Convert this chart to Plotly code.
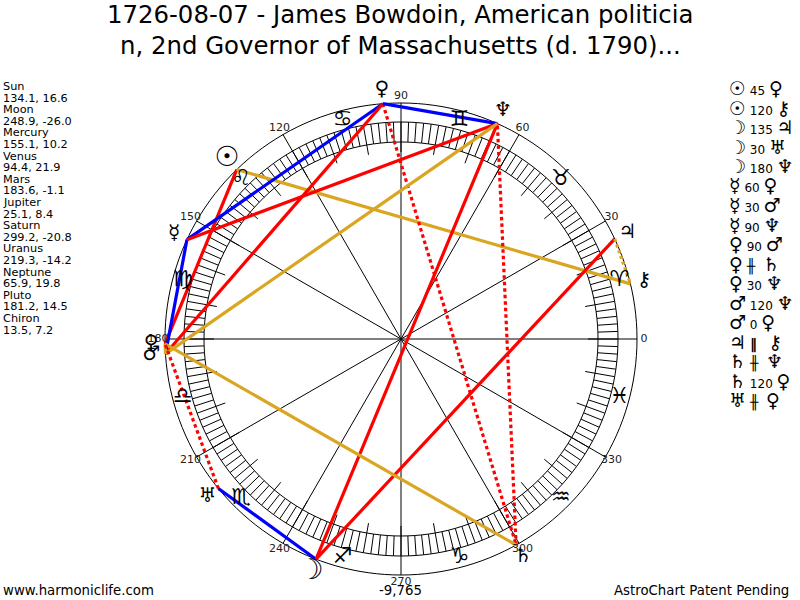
import plotly.graph_objects as go

# ---- data ----
title_lines = ["1726-08-07 - James Bowdoin, American politicia",
               "n, 2nd Governor of Massachusetts (d. 1790)..."]
planets = ["Sun", "Moon", "Mercury", "Venus", "Mars", "Jupiter", "Saturn", "Uranus", "Neptune", "Pluto", "Chiron"]
longitudes = [134.1, 248.9, 155.1, 94.4, 183.6, 25.1, 299.2, 219.3, 65.9, 181.2, 13.5]
latitudes = [16.6, -26.0, 10.2, 21.9, -1.1, 8.4, -20.8, -14.2, 19.8, 14.5, 7.2]
glyphs = ["<b>☉</b>", "<b>☽</b>", "☿", "♀", "♂", "♃", "♄", "♅", "♆", "♀", "⚷"]
signs = ["♈", "♉", "♊", "♋", "♌", "♍", "♎", "♏", "♐", "♑", "♒", "♓"]
sign_centres = [15, 45, 75, 105, 135, 165, 195, 225, 255, 285, 315, 345]
degree_labels = [0, 30, 60, 90, 120, 150, 180, 210, 240, 270, 300, 330]
asp_first = ["Sun", "Sun", "Moon", "Moon", "Moon", "Mercury", "Mercury", "Mercury", "Venus", "Venus",
             "Venus", "Mars", "Mars", "Jupiter", "Saturn", "Saturn", "Uranus"]
asp_kind = ["45", "120", "135", "30", "180", "60", "30", "90", "90", "cp", "30", "120", "0", "p", "cp", "120", "cp"]
asp_second = ["Pluto", "Chiron", "Jupiter", "Uranus", "Neptune", "Venus", "Mars", "Neptune", "Mars", "Saturn",
              "Neptune", "Neptune", "Pluto", "Chiron", "Neptune", "Pluto", "Pluto"]
footer_left = "www.harmoniclife.com"
footer_mid = "-9,765"
footer_right = "AstroChart Patent Pending"

# ---- styling / geometry ----
FONT = "DejaVu Sans"
CX, CY = 401, 339
R_AX = 261
R, RING_OUT, RING_IN, LONG_IN = 236, 217, 197, 187
RED, BLUE, GOLD = "#FF0000", "#0000FF", "#DAA520"
kind_style = {
    "0": (GOLD, "solid"), "120": (GOLD, "solid"),
    "30": (BLUE, "solid"), "60": (BLUE, "solid"),
    "45": (RED, "solid"), "90": (RED, "solid"), "135": (RED, "solid"), "180": (RED, "solid"),
    "cp": (RED, "3.5px,3px"), "p": (GOLD, "3px,3px"),
}
kind_text = {"cp": '<span style="font-size:14px"><b>╫</b></span>\u00a0',
             "p": '<span style="font-size:14px"><b>‖</b></span>\u00a0\u00a0'}

lon = dict(zip(planets, longitudes))
gly = dict(zip(planets, glyphs))
fig = go.Figure()


def add_line(theta, r, color="black", width=1, dash="solid"):
    fig.add_trace(go.Scatterpolar(theta=theta, r=r, mode="lines", hoverinfo="skip", showlegend=False,
                                  line=dict(color=color, width=width, dash=dash)))


full = list(range(0, 361, 2))
for rad in (R, RING_OUT, RING_IN):
    add_line(full, [rad] * len(full))

th, rr = [], []
for d in range(0, 360, 2):
    th += [d, d, None]
    rr += [LONG_IN if d % 10 == 0 else RING_IN, RING_OUT, None]
add_line(th, rr)

th, rr = [], []
for d in degree_labels:
    th += [d, d, None]
    rr += [0, R, None]
add_line(th, rr)

for a, k, b in zip(asp_first, asp_kind, asp_second):
    c, dash = kind_style[k]
    add_line([lon[a], lon[b]], [R, R], c, 3.2, dash)

fig.add_trace(go.Scatterpolar(theta=degree_labels, r=[243] * 12, mode="text",
                              text=[str(d) for d in degree_labels], hoverinfo="skip", showlegend=False,
                              textfont=dict(family=FONT, size=11, color="#222")))
fig.add_trace(go.Scatterpolar(theta=sign_centres, r=[226] * 12, mode="text", text=signs,
                              hoverinfo="skip", showlegend=False,
                              textfont=dict(family=FONT, size=22, color="black")))
sizes = [28 if p in ("Sun", "Moon") else 20 for p in planets]
fig.add_trace(go.Scatterpolar(theta=longitudes, r=[250] * len(planets), mode="text", text=glyphs,
                              hoverinfo="skip", showlegend=False,
                              textfont=dict(family=FONT, size=sizes, color="black")))

ann = []
def note(x, y, text, size, anchor="left"):
    ann.append(dict(x=x, y=y, xref="paper", yref="paper", text=text, showarrow=False, xanchor=anchor,
                    yanchor="middle", align="left", borderpad=0, font=dict(family=FONT, size=size, color="black")))


def px(x, y):
    return x / 800, 1 - y / 600


for text, y in zip(title_lines, (14.5, 45.5)):
    note(*px(400, y), text, 24.4, "center")

y = 86.5
for name, a, b in zip(planets, longitudes, latitudes):
    note(*px(2, y), name, 11.3)
    note(*px(2, y + 11.6), f"{a}, {b}", 11.3)
    y += 23.2

for i, (a, k, b) in enumerate(zip(asp_first, asp_kind, asp_second)):
    row = (f'<span style="font-size:19px">{gly[a]}</span> {kind_text.get(k, k)} '
           f'<span style="font-size:19px">{gly[b]}</span>')
    note(*px(728, 88 + 19.5 * i), row, 12)

note(*px(2, 590), footer_left, 13.3)
note(*px(400, 590), footer_mid, 13.3, "center")
note(*px(790, 590), footer_right, 13.3, "right")

fig.update_layout(
    width=800, height=600, margin=dict(l=0, r=0, t=0, b=0),
    paper_bgcolor="white", plot_bgcolor="white", showlegend=False, annotations=ann,
    polar=dict(
        domain=dict(x=[(CX - R_AX) / 800, (CX + R_AX) / 800],
                    y=[(600 - CY - R_AX) / 600, (600 - CY + R_AX) / 600]),
        bgcolor="rgba(0,0,0,0)",
        radialaxis=dict(range=[0, R_AX], visible=False),
        angularaxis=dict(visible=False, rotation=0, direction="counterclockwise"),
    ),
)
fig.write_html("out.html", config={"displayModeBar": False},
               post_script="document.body.style.margin='0';document.body.style.overflow='hidden';")
